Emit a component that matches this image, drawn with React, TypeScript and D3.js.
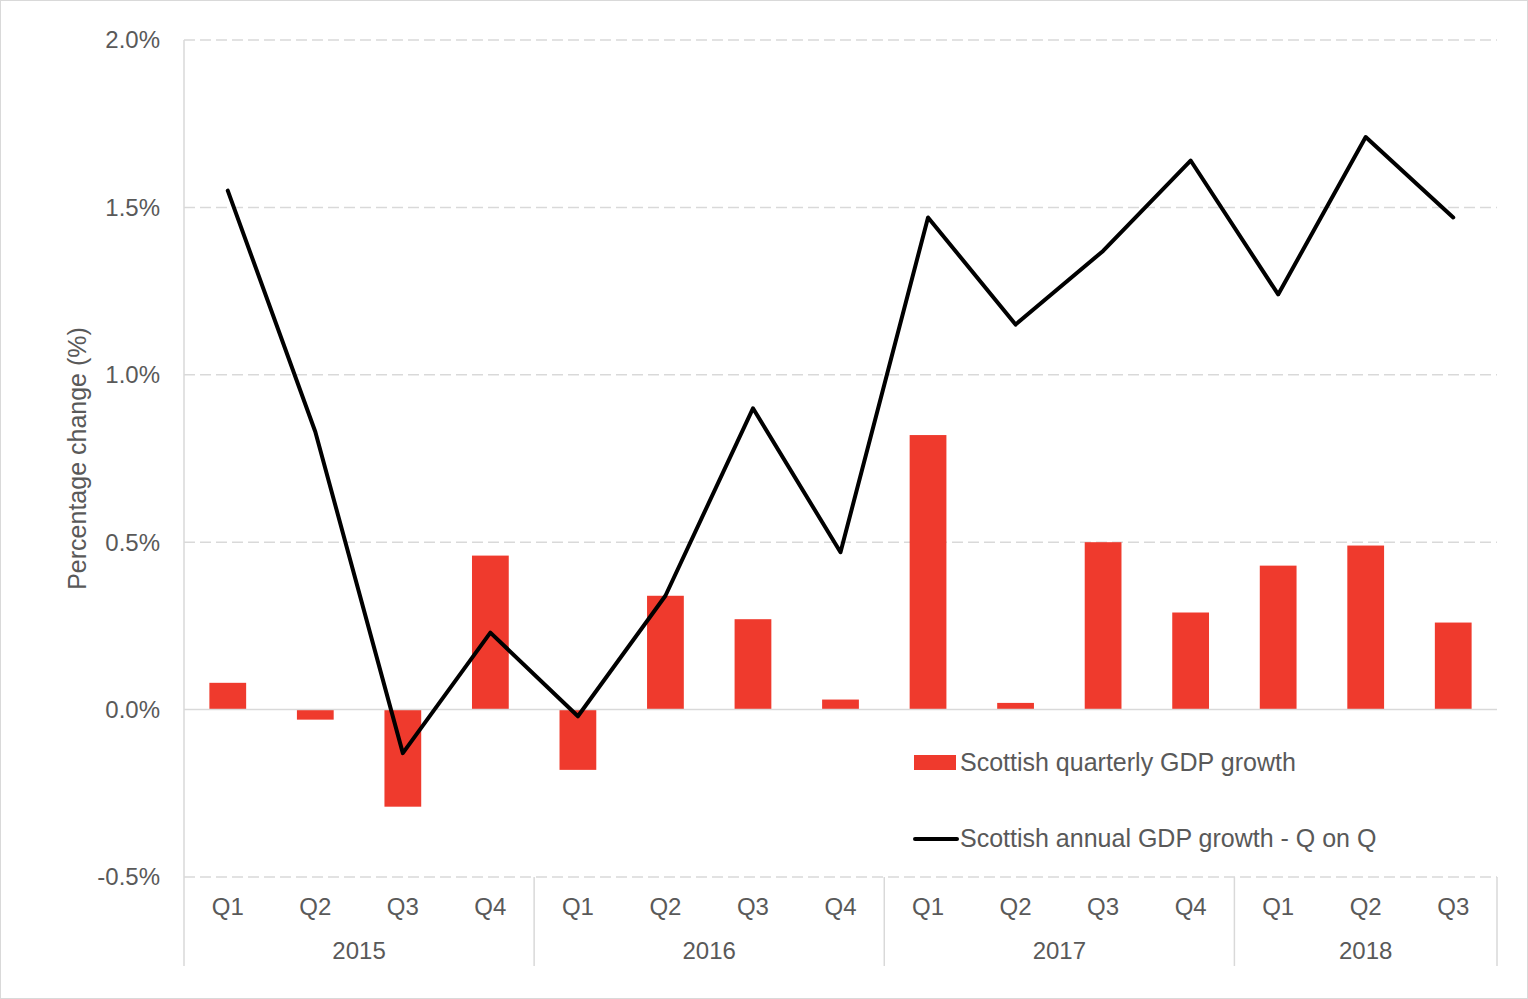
import React from "react";
import * as d3 from "d3";

const years = ["2015", "2016", "2017", "2018"];
const quarters = ["Q1", "Q2", "Q3", "Q4", "Q1", "Q2", "Q3", "Q4", "Q1", "Q2", "Q3", "Q4", "Q1", "Q2", "Q3"];
const quarterYear = ["2015", "2015", "2015", "2015", "2016", "2016", "2016", "2016", "2017", "2017", "2017", "2017", "2018", "2018", "2018"];
const quarterlyGrowth = [0.08, -0.03, -0.29, 0.46, -0.18, 0.34, 0.27, 0.03, 0.82, 0.02, 0.5, 0.29, 0.43, 0.49, 0.26];
const annualGrowth = [1.55, 0.83, -0.13, 0.23, -0.02, 0.34, 0.9, 0.47, 1.47, 1.15, 1.37, 1.64, 1.24, 1.71, 1.47];
const yTicks = [-0.5, 0, 0.5, 1.0, 1.5, 2.0];

const W = 1528;
const H = 999;
const left = 184;
const right = 1497;
const top = 40;
const bottom = 877;
const FONT = "'Liberation Sans', Arial, sans-serif";
const TEXT = "#595959";
const GRID = "#d9d9d9";
const RED = "#ef3a2d";

export default function App() {
  const idx = quarters.map((_, i) => String(i));
  const x = d3.scaleBand<string>().domain(idx).range([left, right]).paddingInner(0.58).paddingOuter(0.29);
  const xc = d3.scaleBand<string>().domain(idx).range([left, right]);
  const y = d3.scaleLinear().domain([-0.5, 2.0]).range([bottom, top]);
  const line = d3
    .line<number>()
    .x((_, i) => (xc(String(i)) as number) + xc.bandwidth() / 2)
    .y((d) => y(d));

  const groups = years.map((yr) => {
    const ids = quarterYear.map((q, i) => (q === yr ? i : -1)).filter((i) => i >= 0);
    const x0 = xc(String(ids[0])) as number;
    const x1 = (xc(String(ids[ids.length - 1])) as number) + xc.bandwidth();
    return { yr, x0, x1 };
  });

  return (
    <div style={{ position: "absolute", left: 0, top: 0 }}>
      <svg width={W} height={H} style={{ display: "block", background: "#fff" }}>
        <rect x={0.5} y={0.5} width={W - 1} height={H - 1} fill="#fff" stroke="#d9d9d9" />
        {yTicks.map((t) => (
          <g key={t}>
            {t !== 0 && (
              <line x1={left} x2={right} y1={y(t)} y2={y(t)} stroke={GRID} strokeWidth={1.5} strokeDasharray="11,5" />
            )}
            <text x={160} y={y(t)} dy="0.35em" textAnchor="end" fontFamily={FONT} fontSize={24} fill={TEXT}>
              {t.toFixed(1) + "%"}
            </text>
          </g>
        ))}
        <line x1={left} x2={left} y1={top} y2={966} stroke={GRID} strokeWidth={1.5} />
        {groups.map((g) => (
          <g key={g.yr}>
            <line x1={g.x1} x2={g.x1} y1={bottom} y2={966} stroke={GRID} strokeWidth={1.5} />
            <text x={(g.x0 + g.x1) / 2} y={959} textAnchor="middle" fontFamily={FONT} fontSize={24} fill={TEXT}>
              {g.yr}
            </text>
          </g>
        ))}
        {quarters.map((q, i) => (
          <text
            key={i}
            x={(xc(String(i)) as number) + xc.bandwidth() / 2}
            y={915}
            textAnchor="middle"
            fontFamily={FONT}
            fontSize={24}
            fill={TEXT}
          >
            {q}
          </text>
        ))}
        {quarterlyGrowth.map((v, i) => (
          <rect
            key={i}
            x={x(String(i))}
            width={x.bandwidth()}
            y={Math.min(y(v), y(0))}
            height={Math.abs(y(v) - y(0))}
            fill={RED}
          />
        ))}
        <line x1={left} x2={right} y1={y(0)} y2={y(0)} stroke={GRID} strokeWidth={1.5} />
        <path d={line(annualGrowth) || ""} fill="none" stroke="#000" strokeWidth={4} strokeLinejoin="round" strokeLinecap="round" />
        <text
          transform={`translate(86, ${(top + bottom) / 2}) rotate(-90)`}
          textAnchor="middle"
          fontFamily={FONT}
          fontSize={25}
          fill={TEXT}
        >
          Percentage change (%)
        </text>
        <rect x={914} y={755} width={42} height={15} fill={RED} />
        <text x={960} y={771} fontFamily={FONT} fontSize={25} fill={TEXT}>
          Scottish quarterly GDP growth
        </text>
        <line x1={915} x2={957} y1={839} y2={839} stroke="#000" strokeWidth={4} strokeLinecap="round" />
        <text x={960} y={847} fontFamily={FONT} fontSize={25} fill={TEXT}>
          Scottish annual GDP growth - Q on Q
        </text>
      </svg>
    </div>
  );
}
